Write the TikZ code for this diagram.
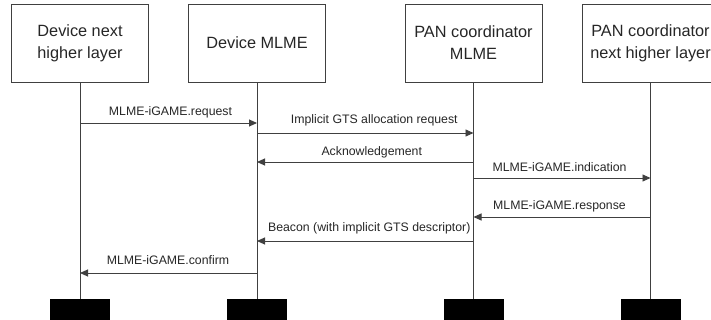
\documentclass[tikz,border=0pt]{standalone}
\usepackage{fontspec}
\setmainfont{Liberation Sans}
\usetikzlibrary{arrows.meta}
\begin{document}
\begin{tikzpicture}[x=1pt,y=-1pt,
  ent/.style={draw=black!75, line width=0.9pt, minimum width=137pt, minimum height=78pt,
              align=center, inner sep=0pt, font=\fontsize{16.3}{22}\selectfont, text=black!85},
  life/.style={draw=black!75, line width=0.9pt},
  msg/.style={draw=black!75, line width=0.9pt, -{Triangle[length=8pt,width=7pt]}},
  lbl/.style={font=\fontsize{12.3}{14}\selectfont, inner sep=0pt, text=black!85},
  blk/.style={fill=black, draw=none, minimum width=60pt, minimum height=24pt, inner sep=0pt}]
\useasboundingbox (0,0) rectangle (711,320);
% entities
\node[ent] (e1) at (80,43) {Device next\\higher layer};
\node[ent] (e2) at (257,43) {Device MLME};
\node[ent] (e3) at (473.5,43) {PAN coordinator\\MLME};
\node[ent] (e4) at (650.5,43) {PAN coordinator\\next higher layer};
% black end blocks
\node[blk] (k1) at (80,311) {};
\node[blk] (k2) at (257,311) {};
\node[blk] (k3) at (473.5,311) {};
\node[blk] (k4) at (650.5,311) {};
% lifelines
\draw[life] (e1.south) -- (k1.north);
\draw[life] (e2.south) -- (k2.north);
\draw[life] (e3.south) -- (k3.north);
\draw[life] (e4.south) -- (k4.north);
% messages
\draw[msg] (e1.south |- 0,123) -- (e2.south |- 0,123)
  node[lbl, midway, yshift=11pt, xshift=2pt] (m1) {MLME-iGAME.request};
\draw[msg] (e2.south |- 0,133) -- (e3.south |- 0,133)
  node[lbl, midway, yshift=13pt, xshift=9pt] (m2) {Implicit GTS allocation request};
\draw[msg] (e3.south |- 0,162) -- (e2.south |- 0,162)
  node[lbl, midway, yshift=9.5pt, xshift=6.5pt] (m3) {Acknowledgement};
\draw[msg] (e3.south |- 0,178) -- (e4.south |- 0,178)
  node[lbl, midway, yshift=11pt, xshift=-2.5pt] (m4) {MLME-iGAME.indication};
\draw[msg] (e4.south |- 0,217) -- (e3.south |- 0,217)
  node[lbl, midway, yshift=10.5pt, xshift=-2.5pt] (m5) {MLME-iGAME.response};
\draw[msg] (e3.south |- 0,241) -- (e2.south |- 0,241)
  node[lbl, midway, yshift=12.5pt, xshift=4pt] (m6) {Beacon (with implicit GTS descriptor)};
\draw[msg] (e2.south |- 0,273) -- (e1.south |- 0,273)
  node[lbl, midway, yshift=12.5pt, xshift=-0.5pt] (m7) {MLME-iGAME.confirm};
\end{tikzpicture}
\end{document}
